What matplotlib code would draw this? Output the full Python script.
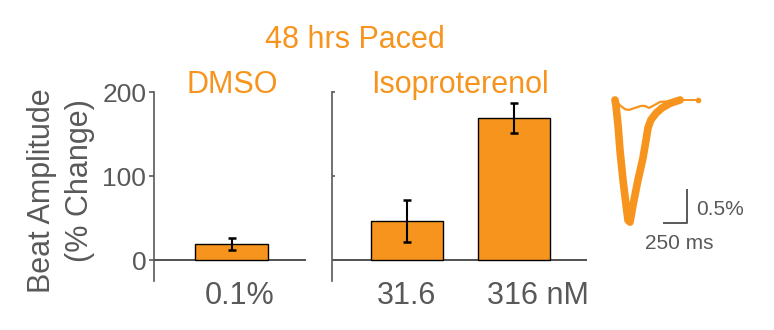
import matplotlib.pyplot as plt
import matplotlib.transforms as mtransforms

plt.rcParams["font.family"] = ["Liberation Sans", "DejaVu Sans"]

ORANGE = "#F7941E"
GRAY = "#595959"

# bar data (% change in beat amplitude)
dmso_labels = ["0.1%"]
dmso_vals = [19]
dmso_err = [7]

iso_labels = ["31.6", "316 nM"]
iso_vals = [46, 169]
iso_err = [25, 18]

# example beat traces (time in ms, amplitude in %)
thick_t = [0, 11, 33, 54, 87, 120, 141, 163, 196, 250, 304, 337, 359, 391, 446, 511, 598, 707]
thick_v = [0, -0.09, -0.38, -0.76, -1.21, -1.59, -1.82, -1.85, -1.59, -1.21, -0.88, -0.61,
           -0.42, -0.30, -0.20, -0.12, -0.05, 0]
tail_t = [707, 902]
tail_v = [0, 0]
thin_t = [0, 54, 109, 152, 217, 283, 326, 370, 424, 489, 576, 707]
thin_v = [0, -0.08, -0.14, -0.15, -0.12, -0.09, -0.09, -0.12, -0.08, -0.03, -0.02, 0]

scale_ms = 250
scale_pct = 0.5

W, H = 774, 330
fig = plt.figure(figsize=(W / 100, H / 100), dpi=100)


def px_box(x0, y0, x1, y1):
    return [x0 / W, 1 - y1 / H, (x1 - x0) / W, (y1 - y0) / H]


def style_axes(ax, show_labels):
    for side in ("top", "right", "bottom"):
        ax.spines[side].set_visible(False)
    ax.spines["left"].set_color(GRAY)
    ax.spines["left"].set_linewidth(1.2)
    ax.set_ylim(-25, 200)
    ax.set_yticks([0, 100, 200])
    ax.axhline(0, color="#333333", lw=1.2, zorder=1)
    ax.tick_params(axis="x", length=0, pad=0, labelsize=22, labelcolor=GRAY)
    if show_labels:
        ax.tick_params(axis="y", direction="out", length=3.5, width=1.2, color=GRAY,
                       pad=2, labelsize=19, labelcolor=GRAY)
    else:
        ax.tick_params(axis="y", direction="in", length=2.5, width=1.2, color=GRAY,
                       labelleft=False)


bar_kw = dict(width=0.67, color=ORANGE, edgecolor="black", linewidth=1.0, zorder=2,
              error_kw=dict(ecolor="black", elinewidth=1.5, capsize=2.6, capthick=1.8))

ax1 = fig.add_axes(px_box(154, 92, 306, 281))
ax1.bar(range(len(dmso_vals)), dmso_vals, yerr=dmso_err, **bar_kw)
ax1.set_xlim(-0.71, 0.68)
ax1.set_xticks(range(len(dmso_labels)), dmso_labels)
style_axes(ax1, True)
for lab in ax1.get_xticklabels():
    lab.set_transform(lab.get_transform() + mtransforms.ScaledTranslation(8 / 100, 0, fig.dpi_scale_trans))

ax2 = fig.add_axes(px_box(332, 92, 587, 281))
ax2.bar(range(len(iso_vals)), iso_vals, yerr=iso_err, **bar_kw)
ax2.set_xlim(-0.70, 1.68)
ax2.set_xticks(range(len(iso_labels)), iso_labels)
style_axes(ax2, False)
for lab in ax2.get_xticklabels():
    if lab.get_text().endswith("nM"):
        lab.set_transform(lab.get_transform() + mtransforms.ScaledTranslation(24 / 100, 0, fig.dpi_scale_trans))

# titles
fig.text(355 / W, 1 - 48 / H, "48 hrs Paced", color=ORANGE, fontsize=22, ha="center", va="baseline")
fig.text(232 / W, 1 - 93 / H, "DMSO", color=ORANGE, fontsize=22, ha="center", va="baseline")
fig.text(460 / W, 1 - 93 / H, "Isoproterenol", color=ORANGE, fontsize=22, ha="center", va="baseline")

# y label, two lines
fig.text(42 / W, 1 - 191 / H, "Beat Amplitude", color=GRAY, fontsize=22, rotation=90,
         ha="center", va="center")
fig.text(80 / W, 1 - 181 / H, "(% Change)", color=GRAY, fontsize=22, rotation=90,
         ha="center", va="center")

# example trace with scale bar
ax3 = fig.add_axes(px_box(600, 85, 720, 235))
ax3.set_xlim(-163, 1141)
ax3.set_ylim(-2.045, 0.227)
ax3.axis("off")
ax3.plot(thin_t, thin_v, color=ORANGE, lw=1.6, solid_capstyle="round", solid_joinstyle="round")
ax3.plot(tail_t, tail_v, color=ORANGE, lw=1.4)
ax3.plot(tail_t[-1:], tail_v[-1:], "o", color=ORANGE, ms=3)
ax3.plot(thick_t, thick_v, color=ORANGE, lw=5.5, solid_capstyle="round", solid_joinstyle="round")

sx, sy = 783, -1.864
ax3.plot([sx - scale_ms, sx, sx], [sy, sy, sy + scale_pct], color=GRAY, lw=1.4, clip_on=False)
ax3.text(sx + 97, sy + scale_pct * 0.4, "0.5%", color=GRAY, fontsize=15, ha="left", va="center")
ax3.text(696, -2.18, "250 ms", color=GRAY, fontsize=15, ha="center", va="center")

fig.savefig("out.png", dpi=100)
